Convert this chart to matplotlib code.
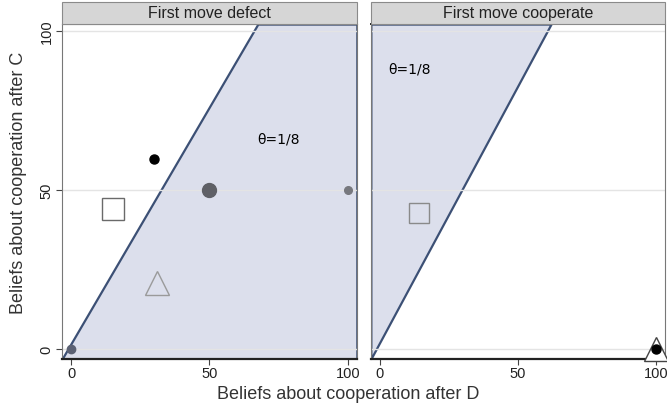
import numpy as np
import matplotlib
matplotlib.use("Agg")
import matplotlib.pyplot as plt
from matplotlib.patches import Rectangle

plt.rcParams['font.family'] = ['Liberation Sans', 'DejaVu Sans']

# panels and where the theta=1/8 boundary meets the top of each panel
panels = ['First move defect', 'First move cooperate']
top_x = [67.5, 62.0]
theta_label = '\u03b8=1/8'
theta_pos = [(75, 66), (3, 88)]
ticks = [0, 50, 100]

# markers in each panel: (x, y, marker, size, face, edge)
defect_pts = [
    (30, 60, 'o', 6.5, 'black', 'black'),
    (50, 50, 'o', 10, '#5f6066', '#5f6066'),
    (100, 50, 'o', 5.5, '#77787e', '#77787e'),
    (0, 0, 'o', 6, '#5b6173', '#5b6173'),
    (15, 44, 's', 15.5, 'white', '#6a6a6a'),
    (31, 21, '^', 17, 'none', '#9a9a9a'),
]
coop_pts = [
    (14, 43, 's', 14.5, 'none', '#8a8a8a'),
    (100, 0, '^', 17, 'white', '#444444'),
    (100, 0, 'o', 6.5, 'black', 'black'),
]

xlim = (-3.3, 103.3)
ylim = (-3.0, 102.3)
fill_col = '#dcdfec'
line_col = '#3c5075'

fig = plt.figure(figsize=(6.67, 4.15), dpi=100)
ax1 = fig.add_axes([0.093, 0.135, 0.442, 0.807])
ax2 = fig.add_axes([0.556, 0.135, 0.441, 0.807])

for i, (ax, title, xt, pts) in enumerate(zip([ax1, ax2], panels, top_x,
                                              [defect_pts, coop_pts])):
    ax.set_xlim(*xlim)
    ax.set_ylim(*ylim)
    # boundary runs from the bottom-left corner up to (xt, top)
    k = (ylim[1] - ylim[0]) / (xt - xlim[0])
    if i == 0:
        # region below the line
        xs = np.array([xlim[0], xt, xlim[1]])
        upper = np.clip(ylim[0] + k * (xs - xlim[0]), ylim[0], ylim[1])
        ax.fill_between(xs, ylim[0], upper,
                        facecolor=fill_col, edgecolor=line_col, lw=1.6, zorder=1)
    else:
        # region above the line
        xs = np.array([xlim[0], xt])
        lower = np.clip(ylim[0] + k * (xs - xlim[0]), ylim[0], ylim[1])
        ax.fill_between(xs, lower, ylim[1],
                        facecolor=fill_col, edgecolor=line_col, lw=1.6, zorder=1)

    for t in ticks:
        ax.axhline(t, color='#e4e4e4', lw=1, zorder=1.5)

    for (x, y, m, s, fc, ec) in pts:
        ax.plot(x, y, marker=m, markersize=s, markerfacecolor=fc,
                markeredgecolor=ec, markeredgewidth=1, ls='none',
                zorder=3, clip_on=False)

    ax.text(theta_pos[i][0], theta_pos[i][1], theta_label, fontsize=10,
            family=['DejaVu Sans'], ha='left' if i else 'center', va='center')

    ax.set_xticks(ticks)
    ax.set_xticklabels([str(t) for t in ticks], fontsize=10.5, color='#222222')
    ax.tick_params(axis='x', length=4, color='#444444', pad=1.5)
    if i == 0:
        ax.set_yticks(ticks)
        ax.set_yticklabels([str(t) for t in ticks], fontsize=10.5, rotation=90,
                           va='center', color='#222222')
        ax.tick_params(axis='y', length=4, color='#444444', pad=2)
    else:
        ax.set_yticks([])

    for side in ['top', 'right', 'left']:
        ax.spines[side].set_color('#777777')
        ax.spines[side].set_linewidth(0.8)
    ax.spines['bottom'].set_color('#222222')
    ax.spines['bottom'].set_linewidth(1.6)
    if i == 1:
        ax.spines['top'].set_color('#222222')
        ax.spines['top'].set_linewidth(1.4)

    # panel strip
    ax.add_patch(Rectangle((0, 1.0), 1, 0.065, transform=ax.transAxes,
                           facecolor='#d6d6d6', edgecolor='#8a8a8a', lw=0.8,
                           clip_on=False, zorder=4))
    ax.text(0.5, 1.0325, title, transform=ax.transAxes, ha='center',
            va='center', fontsize=11.5, color='#222222', zorder=5)

fig.text(0.522, 0.05, 'Beliefs about cooperation after D', ha='center',
         va='center', fontsize=13, color='#333333')
fig.text(0.027, 0.56, 'Beliefs about cooperation after C', ha='center',
         va='center', rotation=90, fontsize=13, color='#333333')

fig.savefig('out.png', dpi=100)
